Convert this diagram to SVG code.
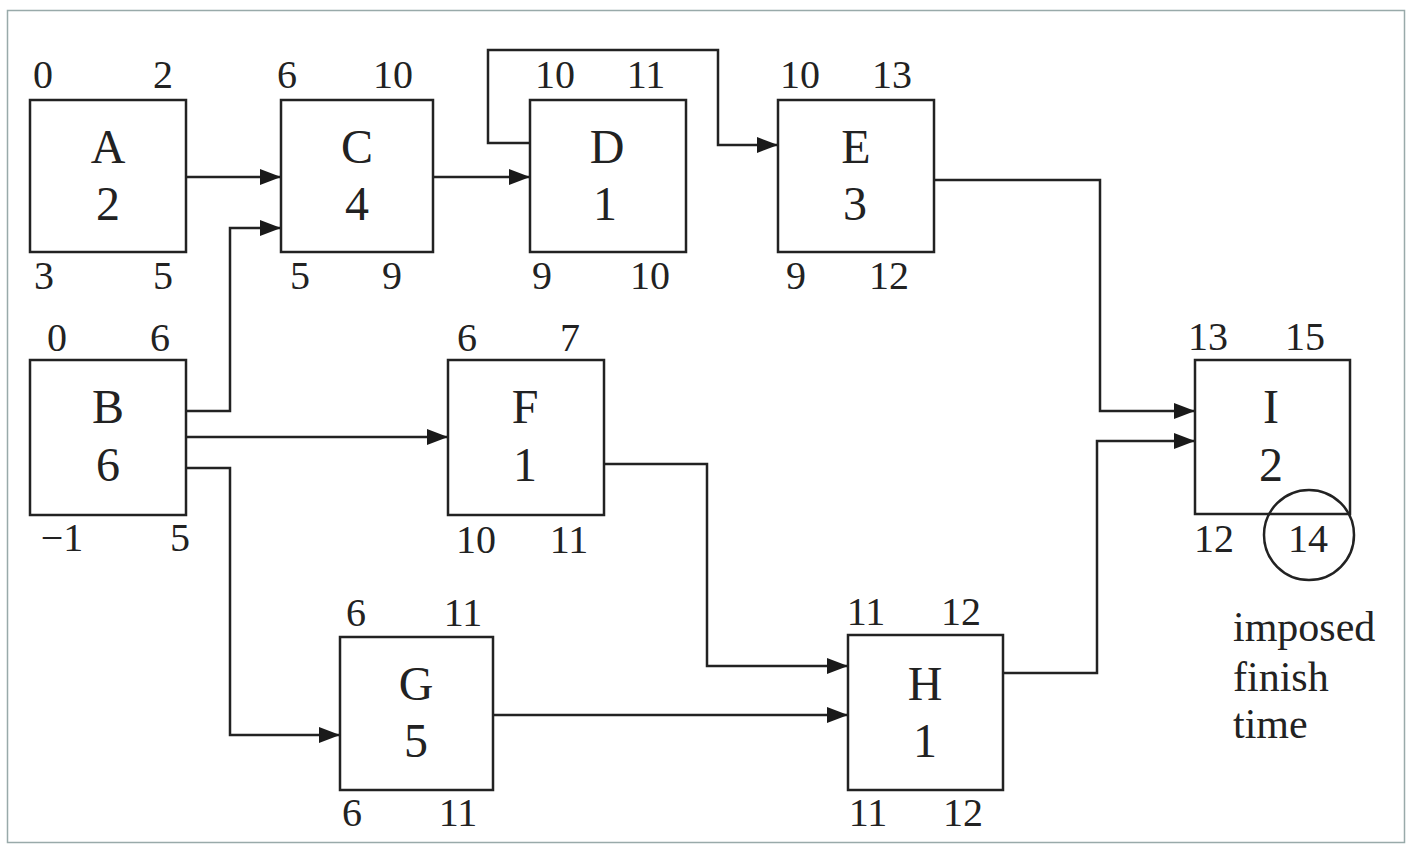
<svg xmlns="http://www.w3.org/2000/svg" width="1409" height="845" viewBox="0 0 1409 845">
<defs>
<marker id="ah" markerWidth="21" markerHeight="16" refX="21" refY="8" orient="auto" markerUnits="userSpaceOnUse">
<path d="M0,0 L21,8 L0,16 Z" fill="#1a1a1a"/>
</marker>
<style>
.box{fill:#fff;stroke:#222;stroke-width:2.5}
.c{fill:none;stroke:#222;stroke-width:2.5}
.n{font-family:"Liberation Serif","DejaVu Serif",serif;font-size:40px;fill:#222;text-anchor:middle}
.m{font-family:"Liberation Serif","DejaVu Serif",serif;font-size:48px;fill:#222;text-anchor:middle}
.t{font-family:"Liberation Serif","DejaVu Serif",serif;font-size:42px;fill:#222}
</style>
</defs>
<rect x="0" y="0" width="1409" height="845" fill="#fff"/>
<rect x="7.5" y="10.5" width="1397" height="832" fill="none" stroke="#9aa" stroke-width="1.5"/>

<g id="connectors">
<path class="c" d="M186,177 H281" marker-end="url(#ah)"/>
<path class="c" d="M186,411 H230 V228 H281" marker-end="url(#ah)"/>
<path class="c" d="M433,177 H530" marker-end="url(#ah)"/>
<path class="c" d="M530,143 H488 V50 H718 V145 H778" marker-end="url(#ah)"/>
<path class="c" d="M186,437 H448" marker-end="url(#ah)"/>
<path class="c" d="M186,468 H230 V735 H340" marker-end="url(#ah)"/>
<path class="c" d="M604,464 H707 V666 H848" marker-end="url(#ah)"/>
<path class="c" d="M493,715 H848" marker-end="url(#ah)"/>
<path class="c" d="M934,180 H1100 V411 H1195" marker-end="url(#ah)"/>
<path class="c" d="M1003,673 H1097 V441 H1195" marker-end="url(#ah)"/>
</g>

<g id="node-A">
<rect class="box" x="30" y="100" width="156" height="152"/>
<text class="m" x="108" y="163">A</text><text class="m" x="108" y="220">2</text>
<text class="n" x="43" y="88">0</text><text class="n" x="163" y="88">2</text>
<text class="n" x="44" y="289">3</text><text class="n" x="163" y="289">5</text>
</g>
<g id="node-C">
<rect class="box" x="281" y="100" width="152" height="152"/>
<text class="m" x="357" y="163">C</text><text class="m" x="357" y="220">4</text>
<text class="n" x="287" y="88">6</text><text class="n" x="393" y="88">10</text>
<text class="n" x="300" y="289">5</text><text class="n" x="392" y="289">9</text>
</g>
<g id="node-D">
<rect class="box" x="530" y="100" width="156" height="152"/>
<text class="m" x="607" y="163">D</text><text class="m" x="605" y="220">1</text>
<text class="n" x="555" y="88">10</text><text class="n" x="646" y="88">11</text>
<text class="n" x="542" y="289">9</text><text class="n" x="650" y="289">10</text>
</g>
<g id="node-E">
<rect class="box" x="778" y="100" width="156" height="152"/>
<text class="m" x="856" y="163">E</text><text class="m" x="855" y="220">3</text>
<text class="n" x="800" y="88">10</text><text class="n" x="892" y="88">13</text>
<text class="n" x="796" y="289">9</text><text class="n" x="889" y="289">12</text>
</g>
<g id="node-B">
<rect class="box" x="30" y="360" width="156" height="155"/>
<text class="m" x="108" y="423">B</text><text class="m" x="108" y="481">6</text>
<text class="n" x="57" y="351">0</text><text class="n" x="160" y="351">6</text>
<text class="n" x="62" y="551">−1</text><text class="n" x="180" y="551">5</text>
</g>
<g id="node-F">
<rect class="box" x="448" y="360" width="156" height="155"/>
<text class="m" x="525" y="423">F</text><text class="m" x="525" y="481">1</text>
<text class="n" x="467" y="351">6</text><text class="n" x="570" y="351">7</text>
<text class="n" x="476" y="553">10</text><text class="n" x="569" y="553">11</text>
</g>
<g id="node-G">
<rect class="box" x="340" y="637" width="153" height="153"/>
<text class="m" x="416" y="700">G</text><text class="m" x="416" y="757">5</text>
<text class="n" x="356" y="626">6</text><text class="n" x="463" y="626">11</text>
<text class="n" x="352" y="826">6</text><text class="n" x="458" y="826">11</text>
</g>
<g id="node-H">
<rect class="box" x="848" y="635" width="155" height="155"/>
<text class="m" x="925" y="700">H</text><text class="m" x="925" y="757">1</text>
<text class="n" x="866" y="625">11</text><text class="n" x="961" y="625">12</text>
<text class="n" x="868" y="826">11</text><text class="n" x="963" y="826">12</text>
</g>
<g id="node-I">
<rect class="box" x="1195" y="360" width="155" height="154"/>
<text class="m" x="1271" y="423">I</text><text class="m" x="1271" y="481">2</text>
<text class="n" x="1208" y="350">13</text><text class="n" x="1305" y="350">15</text>
<text class="n" x="1214" y="552">12</text><text class="n" x="1308" y="552">14</text>
<circle cx="1309" cy="535" r="45" fill="none" stroke="#222" stroke-width="2.5"/>
</g>
<g id="note">
<text class="t" x="1233" y="641">imposed</text>
<text class="t" x="1233" y="691">finish</text>
<text class="t" x="1233" y="738">time</text>
</g>
</svg>
